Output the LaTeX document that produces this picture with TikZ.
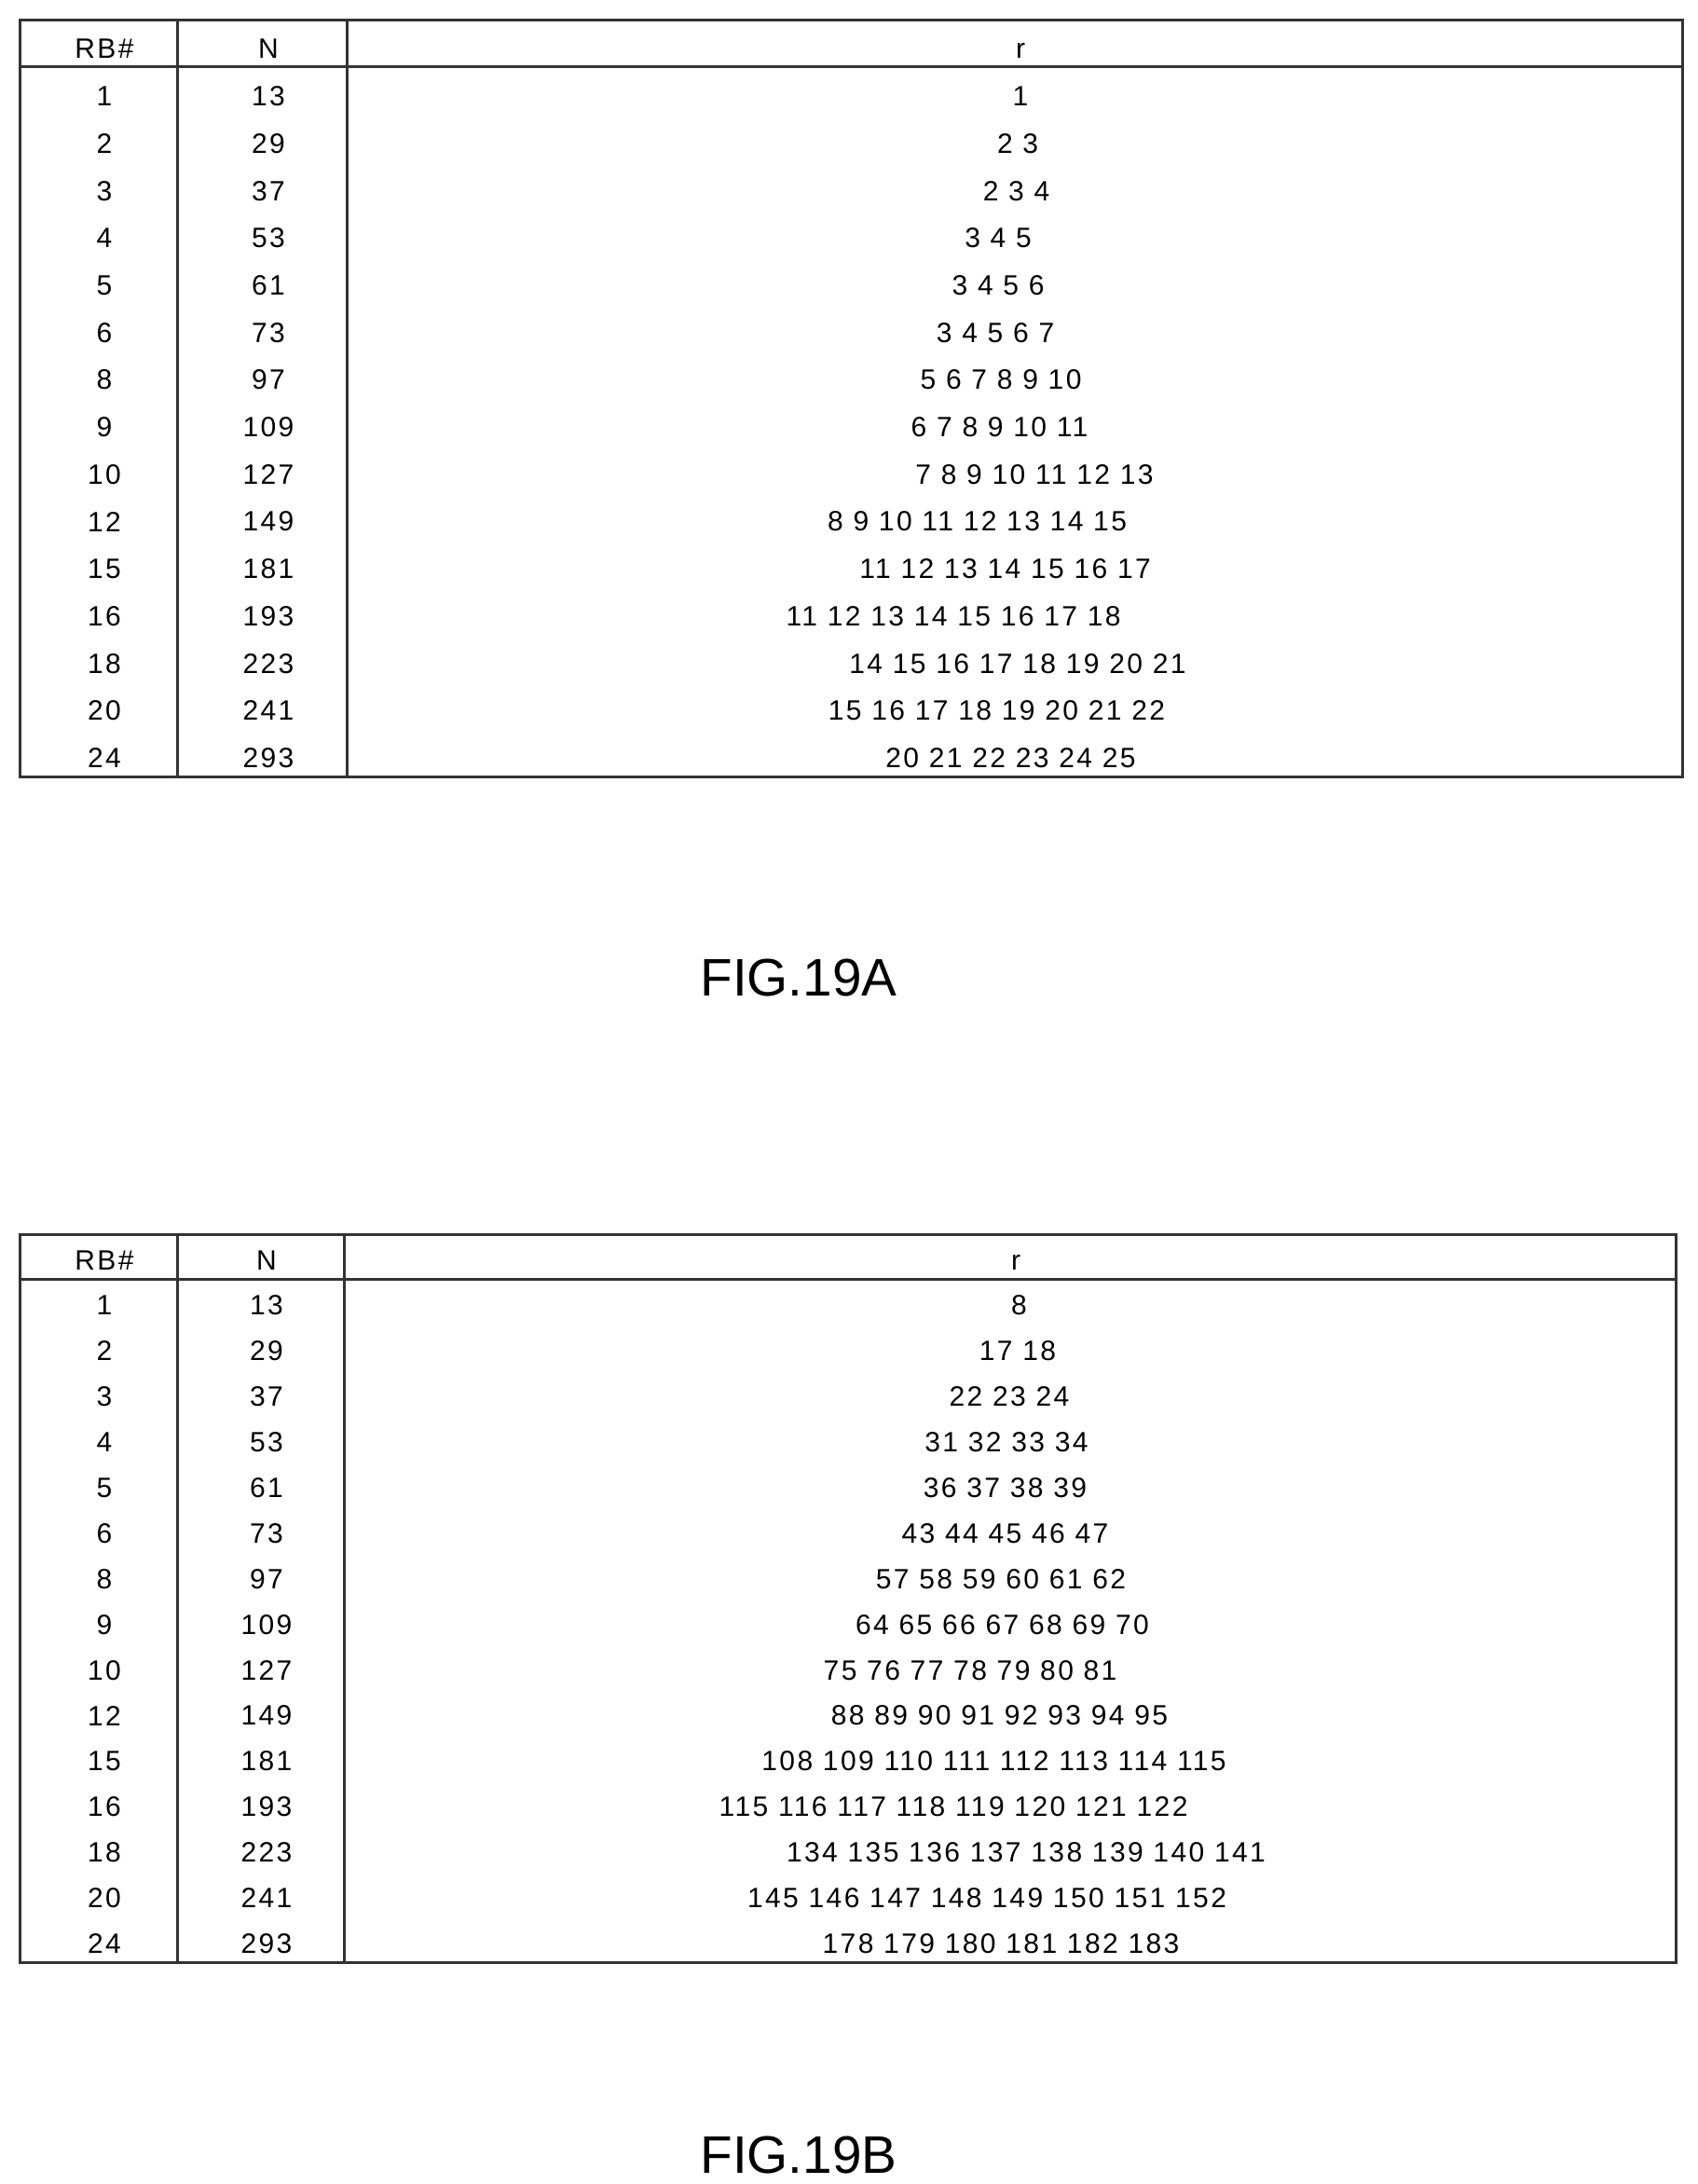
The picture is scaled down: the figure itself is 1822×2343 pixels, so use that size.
\documentclass[tikz,border=0pt]{standalone}
\usepackage{fontspec}
\setmainfont{Liberation Sans}
\newfontfamily\cellfont{Liberation Sans}[LetterSpace=8]
\begin{document}
\begin{tikzpicture}[x=0.3pt,y=-0.3pt,
  grid/.style={line width=0.9pt,draw=black!80},
  cell/.style={font=\cellfont\fontsize{9}{10}\selectfont,inner sep=0pt,anchor=center},
  figcap/.style={font=\fontsize{17}{20}\selectfont,inner sep=0pt}]
\useasboundingbox (0,0) rectangle (1822,2343);
% Table A
\draw[grid] (21,22) rectangle (1805,833);
\draw[grid] (21,72) -- (1805,72);
\draw[grid] (190,22) -- (190,833);
\draw[grid] (372,22) -- (372,833);
\node[cell] (ha1) at (112,52) {RB\#};
\node[cell] (ha2) at (288,52) {N};
\node[cell] (ha3) at (1095,54) {r};
\foreach \rb/\n/\r/\cx [count=\i] in {
 1/13/1/731, 2/29/2 3/729, 3/37/2 3 4/728, 4/53/3 4 5/715, 5/61/3 4 5 6/715,
 6/73/3 4 5 6 7/713, 8/97/5 6 7 8 9 10/717, 9/109/6 7 8 9 10 11/716,
 10/127/7 8 9 10 11 12 13/741, 12/149/8 9 10 11 12 13 14 15/700,
 15/181/11 12 13 14 15 16 17/720, 16/193/11 12 13 14 15 16 17 18/683,
 18/223/14 15 16 17 18 19 20 21/729, 20/241/15 16 17 18 19 20 21 22/714,
 24/293/20 21 22 23 24 25/724}{
  \pgfmathsetmacro{\yy}{78+50.7*(\i-0.5)}
  \node[cell] (a1r\i) at (112,\yy) {\rb};
  \node[cell] (a2r\i) at (288,\yy) {\n};
  \node[cell] (a3r\i) at (1.498*\cx,\yy) {\r};
}
\node[figcap] (figa) at (857,1049) {FIG.19A};
% Table B
\draw[grid] (21,1324) rectangle (1798,2105);
\draw[grid] (21,1372) -- (1798,1372);
\draw[grid] (190,1324) -- (190,2105);
\draw[grid] (369,1324) -- (369,2105);
\node[cell] (hb1) at (112,1352) {RB\#};
\node[cell] (hb2) at (286,1352) {N};
\node[cell] (hb3) at (1090,1354) {r};
\foreach \rb/\n/\r/\cx [count=\i] in {
 1/13/8/730, 2/29/17 18/729, 3/37/22 23 24/723, 4/53/31 32 33 34/721,
 5/61/36 37 38 39/720, 6/73/43 44 45 46 47/720, 8/97/57 58 59 60 61 62/717,
 9/109/64 65 66 67 68 69 70/718, 10/127/75 76 77 78 79 80 81/695,
 12/149/88 89 90 91 92 93 94 95/716, 15/181/108 109 110 111 112 113 114 115/712,
 16/193/115 116 117 118 119 120 121 122/683, 18/223/134 135 136 137 138 139 140 141/735,
 20/241/145 146 147 148 149 150 151 152/707, 24/293/178 179 180 181 182 183/717}{
  \pgfmathsetmacro{\yy}{1376+48.9*(\i-0.5)}
  \node[cell] (b1r\i) at (112,\yy) {\rb};
  \node[cell] (b2r\i) at (286,\yy) {\n};
  \node[cell] (b3r\i) at (1.498*\cx,\yy) {\r};
}
\node[figcap] (figb) at (857,2312) {FIG.19B};
\end{tikzpicture}
\end{document}
